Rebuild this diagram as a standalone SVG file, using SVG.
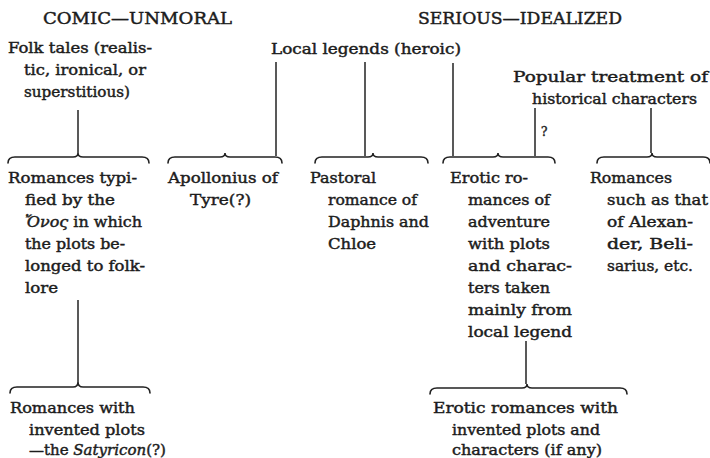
<svg xmlns="http://www.w3.org/2000/svg" width="710" height="458" viewBox="0 0 710 458">
<style>
text{font-family:"DejaVu Serif","Liberation Serif",serif;font-size:15px;fill:#1c1c1c;stroke:#1c1c1c;stroke-width:0.45}
.t{font-size:16px}
.q{font-size:12px}
.ln{stroke:#222;stroke-width:1.5;fill:none}
.br{stroke:#222;stroke-width:1.6;fill:none;stroke-linecap:round}
</style>
<rect width="710" height="458" fill="#ffffff"/>
<g id="connectors">
<line class="ln" x1="78" y1="110" x2="78" y2="153"/>
<line class="ln" x1="276" y1="62" x2="276" y2="156"/>
<line class="ln" x1="365" y1="62" x2="365" y2="156"/>
<line class="ln" x1="453" y1="63" x2="453" y2="156"/>
<line class="ln" x1="535" y1="108" x2="535" y2="156"/>
<line class="ln" x1="651" y1="108" x2="651" y2="153"/>
<line class="ln" x1="78" y1="300" x2="78" y2="382"/>
<line class="ln" x1="526" y1="341" x2="526" y2="384"/>
<path class="br" d="M8 163 Q8 157 15 157 L73 157 Q78 157 78 153 Q78 157 83 157 L142 157 Q149 157 149 163"/>
<path class="br" d="M168 163 Q168 157 175 157 L220 157 Q225 157 225 153 Q225 157 230 157 L275 157 Q282 157 282 163"/>
<path class="br" d="M315 163 Q315 157 322 157 L368 157 Q373 157 373 153 Q373 157 378 157 L421 157 Q428 157 428 163"/>
<path class="br" d="M443 163 Q443 157 450 157 L493 157 Q498 157 498 153 Q498 157 503 157 L548 157 Q555 157 555 163"/>
<path class="br" d="M597 163 Q597 157 604 157 L647 157 Q652 157 652 153 Q652 157 657 157 L703 157 Q710 157 710 163"/>
<path class="br" d="M10 393 Q10 387 17 387 L73 387 Q78 387 78 382 Q78 387 83 387 L143 387 Q150 387 150 393"/>
<path class="br" d="M430 394 Q430 388 437 388 L522 388 Q527 388 527 384 Q527 388 532 388 L620 388 Q627 388 627 394"/>
</g>
<g id="title-comic"><text class="t" x="43" y="24" textLength="189" lengthAdjust="spacingAndGlyphs">COMIC—UNMORAL</text></g>
<g id="title-serious"><text class="t" x="418" y="24" textLength="204" lengthAdjust="spacingAndGlyphs">SERIOUS—IDEALIZED</text></g>
<g id="folk-tales">
<text x="8" y="53" textLength="144" lengthAdjust="spacingAndGlyphs">Folk tales (realis-</text>
<text x="24" y="75" textLength="122" lengthAdjust="spacingAndGlyphs">tic, ironical, or</text>
<text x="24" y="97" textLength="106" lengthAdjust="spacingAndGlyphs">superstitious)</text>
</g>
<g id="local-legends"><text x="271" y="54" textLength="190" lengthAdjust="spacingAndGlyphs">Local legends (heroic)</text></g>
<g id="popular-treatment">
<text x="513" y="82" textLength="195" lengthAdjust="spacingAndGlyphs">Popular treatment of</text>
<text x="532" y="104" textLength="165" lengthAdjust="spacingAndGlyphs">historical characters</text>
</g>
<g id="question-label"><text class="q" x="541" y="136">?</text></g>
<g id="romances-onos">
<text x="8" y="183" textLength="129" lengthAdjust="spacingAndGlyphs">Romances typi-</text>
<text x="25" y="205" textLength="90" lengthAdjust="spacingAndGlyphs">fied by the</text>
<text x="25" y="227" textLength="117" lengthAdjust="spacingAndGlyphs"><tspan font-style="italic">Ὄνος</tspan> in which</text>
<text x="25" y="249" textLength="100" lengthAdjust="spacingAndGlyphs">the plots be-</text>
<text x="25" y="271" textLength="120" lengthAdjust="spacingAndGlyphs">longed to folk-</text>
<text x="25" y="293" textLength="33" lengthAdjust="spacingAndGlyphs">lore</text>
</g>
<g id="apollonius">
<text x="168" y="183" textLength="110" lengthAdjust="spacingAndGlyphs">Apollonius of</text>
<text x="190" y="205" textLength="61" lengthAdjust="spacingAndGlyphs">Tyre(?)</text>
</g>
<g id="pastoral">
<text x="310" y="183" textLength="66" lengthAdjust="spacingAndGlyphs">Pastoral</text>
<text x="328" y="205" textLength="89" lengthAdjust="spacingAndGlyphs">romance of</text>
<text x="328" y="227" textLength="101" lengthAdjust="spacingAndGlyphs">Daphnis and</text>
<text x="328" y="249" textLength="48" lengthAdjust="spacingAndGlyphs">Chloe</text>
</g>
<g id="erotic-adventure">
<text x="450" y="183" textLength="78" lengthAdjust="spacingAndGlyphs">Erotic ro-</text>
<text x="468" y="205" textLength="82" lengthAdjust="spacingAndGlyphs">mances of</text>
<text x="468" y="227" textLength="82" lengthAdjust="spacingAndGlyphs">adventure</text>
<text x="468" y="249" textLength="82" lengthAdjust="spacingAndGlyphs">with plots</text>
<text x="468" y="271" textLength="104" lengthAdjust="spacingAndGlyphs">and charac-</text>
<text x="468" y="293" textLength="82" lengthAdjust="spacingAndGlyphs">ters taken</text>
<text x="468" y="315" textLength="104" lengthAdjust="spacingAndGlyphs">mainly from</text>
<text x="468" y="337" textLength="104" lengthAdjust="spacingAndGlyphs">local legend</text>
</g>
<g id="romances-alexander">
<text x="590" y="183" textLength="82" lengthAdjust="spacingAndGlyphs">Romances</text>
<text x="607" y="205" textLength="101" lengthAdjust="spacingAndGlyphs">such as that</text>
<text x="607" y="227" textLength="86" lengthAdjust="spacingAndGlyphs">of Alexan-</text>
<text x="607" y="249" textLength="86" lengthAdjust="spacingAndGlyphs">der, Beli-</text>
<text x="607" y="271" textLength="86" lengthAdjust="spacingAndGlyphs">sarius, etc.</text>
</g>
<g id="romances-satyricon">
<text x="10" y="413" textLength="125" lengthAdjust="spacingAndGlyphs">Romances with</text>
<text x="29" y="434.5" textLength="116" lengthAdjust="spacingAndGlyphs">invented plots</text>
<text x="29" y="455">—the <tspan font-style="italic">Satyricon</tspan>(?)</text>
</g>
<g id="erotic-invented">
<text x="433" y="413" textLength="185" lengthAdjust="spacingAndGlyphs">Erotic romances with</text>
<text x="452" y="434.5" textLength="148" lengthAdjust="spacingAndGlyphs">invented plots and</text>
<text x="452" y="455" textLength="150" lengthAdjust="spacingAndGlyphs">characters (if any)</text>
</g>
</svg>
